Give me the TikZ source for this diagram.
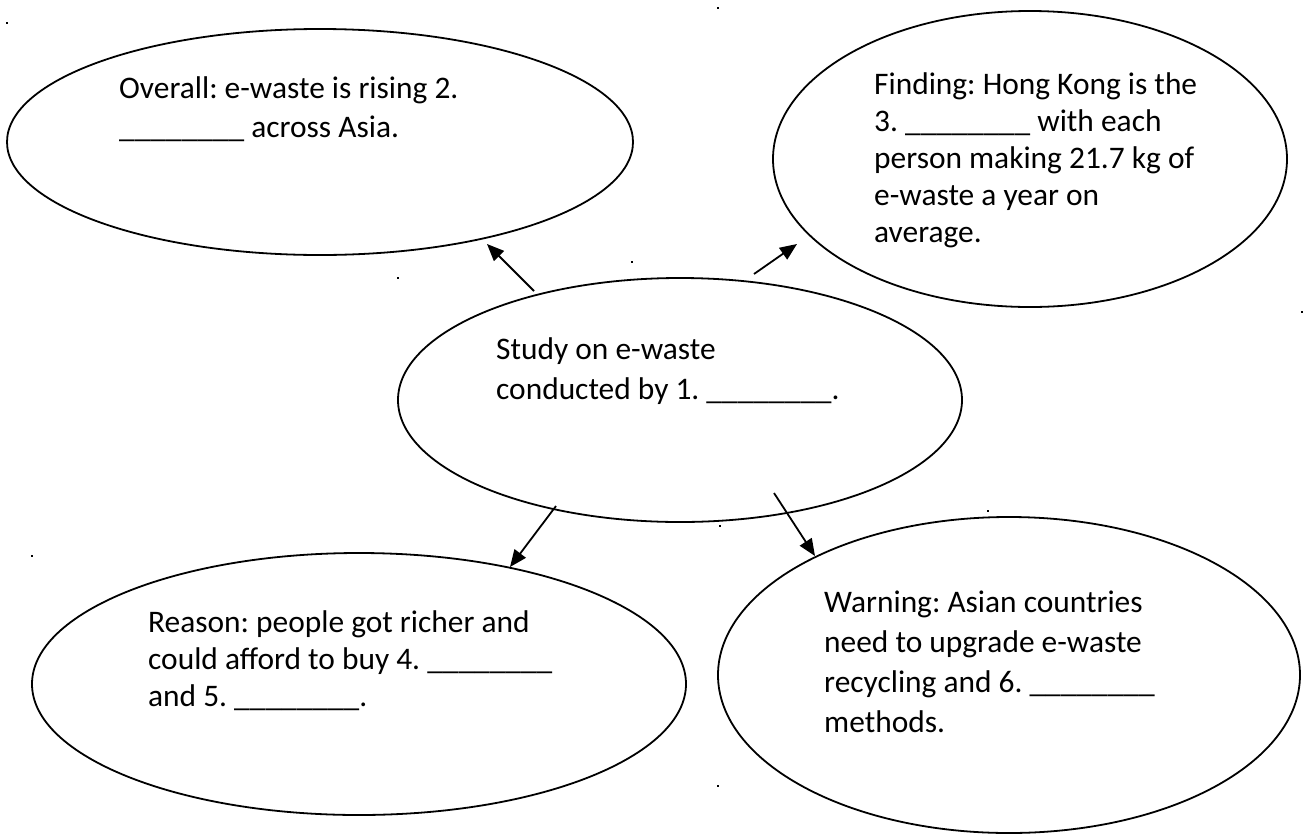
\documentclass[tikz,border=0pt]{standalone}
\usepackage{fontspec}
\setmainfont{Carlito}
\usetikzlibrary{shapes.geometric,arrows.meta}
\newcommand\bubbletext[2]{{\fontsize{31.4}{#1}\selectfont\frenchspacing\begin{tabular}[t]{@{}l@{}}#2\end{tabular}}}
\newcommand\blank{\_\_\_\_\_\_\_\_}
\begin{document}
\begin{tikzpicture}[x=1pt,y=-1pt,
  bubble/.style={ellipse, draw, line width=1.8pt, inner sep=0pt},
  txt/.style={anchor=base west, inner sep=0pt},
  conn/.style={line width=1.8pt, -{Triangle[length=17pt,width=14pt]}},
  speck/.style={fill=black, inner sep=0pt, minimum size=2.5pt}]
\useasboundingbox (0,0) rectangle (1314,833);
% bubbles
\node[bubble, minimum width=626pt, minimum height=226pt] (e1) at (320,142) {};
\node[bubble, minimum width=514pt, minimum height=296pt] (e2) at (1030,159) {};
\node[bubble, minimum width=564pt, minimum height=244pt] (e3) at (680,400) {};
\node[bubble, minimum width=654pt, minimum height=262pt] (e4) at (359,684) {};
\node[bubble, minimum width=582pt, minimum height=316pt] (e5) at (1009,675) {};
% texts
\node[txt] (t1) at (119,98) {\bubbletext{39pt}{Overall: e-waste is rising 2.\\\blank{} across Asia.}};
\node[txt] (t2) at (874,94) {\bubbletext{37pt}{Finding: Hong Kong is the\\3. \blank{} with each\\person making 21.7 kg of\\e-waste a year on\\average.}};
\node[txt] (t3) at (496,359) {\bubbletext{40pt}{Study on e-waste\\conducted by 1. \blank.}};
\node[txt] (t4) at (148,632) {\bubbletext{37pt}{Reason: people got richer and\\could afford to buy 4. \blank\\and 5. \blank.}};
\node[txt] (t5) at (824,612) {\bubbletext{40pt}{Warning: Asian countries\\need to upgrade e-waste\\recycling and 6. \blank\\methods.}};
% connector ends
\coordinate (a1s) at (534,291); \coordinate (a1e) at (487,244);
\coordinate (a2s) at (754,274); \coordinate (a2e) at (797,244);
\coordinate (a3s) at (556,506); \coordinate (a3e) at (510,567);
\coordinate (a4s) at (774,493); \coordinate (a4e) at (815,556);
\draw[conn] (a1s) -- (a1e);
\draw[conn] (a2s) -- (a2e);
\draw[conn] (a3s) -- (a3e);
\draw[conn] (a4s) -- (a4e);
% stray specks
\node[speck] (d1) at (7,23) {};
\node[speck] (d2) at (718,8) {};
\node[speck] (d3) at (398,278) {};
\node[speck] (d4) at (632,262) {};
\node[speck] (d5) at (1302,312) {};
\node[speck] (d6) at (720,526) {};
\node[speck] (d7) at (988,511) {};
\node[speck] (d8) at (32,556) {};
\node[speck] (d9) at (718,786) {};
\end{tikzpicture}
\end{document}
